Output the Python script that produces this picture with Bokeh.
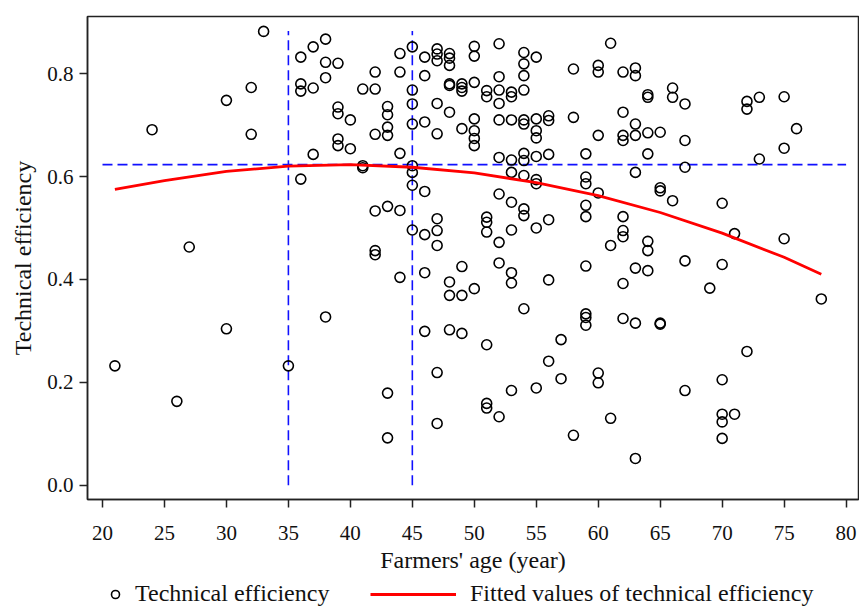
import numpy as np
from bokeh.plotting import figure
from bokeh.layouts import column
from bokeh.models import Legend, LegendItem, FixedTicker, NumeralTickFormatter, Range1d
from bokeh.embed import file_html
from bokeh.resources import INLINE

# ---- data ----
age_values = [21, 24, 26, 27, 30, 32, 33, 35, 36, 37, 38, 39, 40, 41, 42, 43, 44, 45, 46, 47,
              48, 49, 50, 51, 52, 53, 54, 55, 56, 57, 58, 59, 60, 61, 62, 63, 64, 65, 66, 67,
              69, 70, 71, 72, 73, 75, 76, 78]
age_counts = [1, 1, 1, 1, 2, 2, 1, 1, 4, 3, 4, 5, 2, 3, 6, 7, 5, 8, 7, 10,
              9, 7, 8, 8, 10, 10, 12, 9, 6, 2, 3, 9, 6, 3, 9, 8, 7, 5, 3, 5,
              1, 6, 2, 3, 2, 3, 1, 1]
efficiency = [
    0.232,
    0.691,
    0.163,
    0.463,
    0.748, 0.304,
    0.773, 0.682,
    0.882,
    0.232,
    0.832, 0.780, 0.766, 0.595,
    0.852, 0.772, 0.643,
    0.867, 0.822, 0.792, 0.327,
    0.820, 0.735, 0.722, 0.673, 0.660,
    0.710, 0.654,
    0.770, 0.621, 0.617,
    0.803, 0.770, 0.682, 0.533, 0.456, 0.448,
    0.736, 0.720, 0.696, 0.680, 0.542, 0.179, 0.092,
    0.839, 0.803, 0.645, 0.534, 0.404,
    0.852, 0.768, 0.741, 0.702, 0.621, 0.608, 0.583, 0.496,
    0.832, 0.796, 0.706, 0.571, 0.487, 0.413, 0.299,
    0.848, 0.838, 0.825, 0.742, 0.683, 0.518, 0.495, 0.466, 0.219, 0.120,
    0.839, 0.830, 0.816, 0.780, 0.777, 0.725, 0.395, 0.369, 0.302,
    0.780, 0.773, 0.766, 0.693, 0.425, 0.369, 0.295,
    0.853, 0.834, 0.783, 0.712, 0.689, 0.674, 0.660, 0.382,
    0.767, 0.755, 0.521, 0.511, 0.492, 0.273, 0.159, 0.150,
    0.858, 0.794, 0.768, 0.742, 0.710, 0.637, 0.566, 0.472, 0.432, 0.133,
    0.764, 0.755, 0.710, 0.632, 0.608, 0.550, 0.496, 0.413, 0.393, 0.184,
    0.841, 0.819, 0.796, 0.768, 0.710, 0.702, 0.645, 0.631, 0.602, 0.537, 0.524, 0.343,
    0.832, 0.712, 0.689, 0.675, 0.639, 0.594, 0.586, 0.500, 0.189,
    0.718, 0.709, 0.643, 0.516, 0.399, 0.241,
    0.283, 0.207,
    0.809, 0.715, 0.097,
    0.644, 0.599, 0.586, 0.544, 0.522, 0.426, 0.333, 0.326, 0.311,
    0.816, 0.803, 0.680, 0.568, 0.218, 0.199,
    0.859, 0.466, 0.130,
    0.803, 0.725, 0.680, 0.670, 0.522, 0.495, 0.483, 0.392, 0.324,
    0.811, 0.796, 0.702, 0.680, 0.608, 0.422, 0.315, 0.052,
    0.759, 0.754, 0.685, 0.644, 0.474, 0.456, 0.417,
    0.686, 0.578, 0.572, 0.315, 0.313,
    0.772, 0.754, 0.553,
    0.741, 0.670, 0.618, 0.436, 0.184,
    0.383,
    0.548, 0.429, 0.205, 0.138, 0.123, 0.091,
    0.489, 0.138,
    0.746, 0.731, 0.260,
    0.754, 0.634,
    0.755, 0.655, 0.479,
    0.693,
    0.362,
]
age = list(np.repeat(age_values, age_counts))
assert len(age) == len(efficiency)

# fitted values
fit_age = [21, 25, 30, 35, 40, 45, 50, 55, 60, 65, 70, 75, 78]
fit_te = [0.575, 0.592, 0.610, 0.620, 0.623, 0.618, 0.607, 0.588, 0.563, 0.530, 0.490, 0.443, 0.410]

# reference (dashed) lines
ref_ages = [35, 45]
ref_age_top = 0.883
ref_te = 0.623
ref_te_span = [20, 80]

x_ticks = [20, 25, 30, 35, 40, 45, 50, 55, 60, 65, 70, 75, 80]
y_ticks = [0.0, 0.2, 0.4, 0.6, 0.8]

FONT = "Liberation Serif"
BLUE = "#1010ff"

p = figure(width=859, height=578, x_range=(18.79, 81.0), y_range=(-0.0278, 0.911),
           output_backend="svg", toolbar_location=None,
           min_border_left=87, min_border_right=1, min_border_top=16, min_border_bottom=79)
p.grid.visible = False
p.background_fill_color = "white"
p.outline_line_color = "#222222"
p.outline_line_width = 1.5

for ax in (p.xaxis[0], p.yaxis[0]):
    ax.axis_line_color = "#222222"
    ax.axis_line_width = 1.5
    ax.major_tick_line_color = "#222222"
    ax.major_tick_line_width = 1.5
    ax.major_tick_out = 8
    ax.major_tick_in = 0
    ax.minor_tick_line_color = None
    ax.major_label_text_font = FONT
    ax.major_label_text_font_size = "21px"
    ax.major_label_text_color = "#111111"
    ax.axis_label_text_font = FONT
    ax.axis_label_text_font_size = "24px"
    ax.axis_label_text_font_style = "normal"
    ax.axis_label_text_color = "#111111"

p.xaxis.ticker = FixedTicker(ticks=x_ticks)
p.yaxis.ticker = FixedTicker(ticks=y_ticks)
p.yaxis.formatter = NumeralTickFormatter(format="0.0")
p.xaxis.axis_label = "Farmers' age (year)"
p.yaxis.axis_label = "Technical efficiency"
p.xaxis.major_label_standoff = 18
p.xaxis.axis_label_standoff = 4
p.yaxis.major_label_standoff = 6
p.yaxis.major_label_orientation = "horizontal"
p.yaxis.axis_label_standoff = 8

# dashed reference lines
p.segment(x0=ref_ages, y0=[0, 0], x1=ref_ages, y1=[ref_age_top, ref_age_top],
          line_color=BLUE, line_width=1.6, line_dash="10 5")
p.segment(x0=[ref_te_span[0]], y0=[ref_te], x1=[ref_te_span[1]], y1=[ref_te],
          line_color=BLUE, line_width=1.6, line_dash="10 5")

p.scatter(age, efficiency, marker="circle", size=10, fill_color=None,
          line_color="black", line_width=1.6)
p.line(fit_age, fit_te, line_color="#ff0000", line_width=2.8)

# legend row (separate strip below the plot; its frame is aligned with the plot's)
lg = figure(width=859, height=28, output_backend="svg", toolbar_location=None,
            x_range=Range1d(0, 1), y_range=Range1d(0, 1),
            x_axis_location=None, y_axis_location=None,
            min_border_left=0, min_border_right=0, min_border_top=0, min_border_bottom=0)
lg.grid.visible = False
lg.outline_line_color = None
# key renderers reuse the real series; their points fall outside this strip's ranges
sc_key = lg.scatter(age[:1], efficiency[:1], marker="circle", size=10, fill_color=None,
                    line_color="black", line_width=1.6)
ln_key = lg.line(fit_age[:2], fit_te[:2], line_color="#ff0000", line_width=3.2)

common = dict(border_line_color=None, background_fill_alpha=0, padding=0, margin=0,
              label_text_font=FONT, label_text_font_size="24px", label_text_color="#111111",
              glyph_height=20, label_height=20, orientation="horizontal")
leg1 = Legend(items=[LegendItem(label="Technical efficiency", renderers=[sc_key])],
              location=(18, -1), glyph_width=20, label_standoff=10, **common)
leg2 = Legend(items=[LegendItem(label="Fitted values of technical efficiency", renderers=[ln_key])],
              location=(283, -1), glyph_width=86, label_standoff=14, **common)
lg.add_layout(leg1, "center")
lg.add_layout(leg2, "center")

layout = column(p, lg, spacing=0)
open("out.html", "w").write(file_html(layout, INLINE))
